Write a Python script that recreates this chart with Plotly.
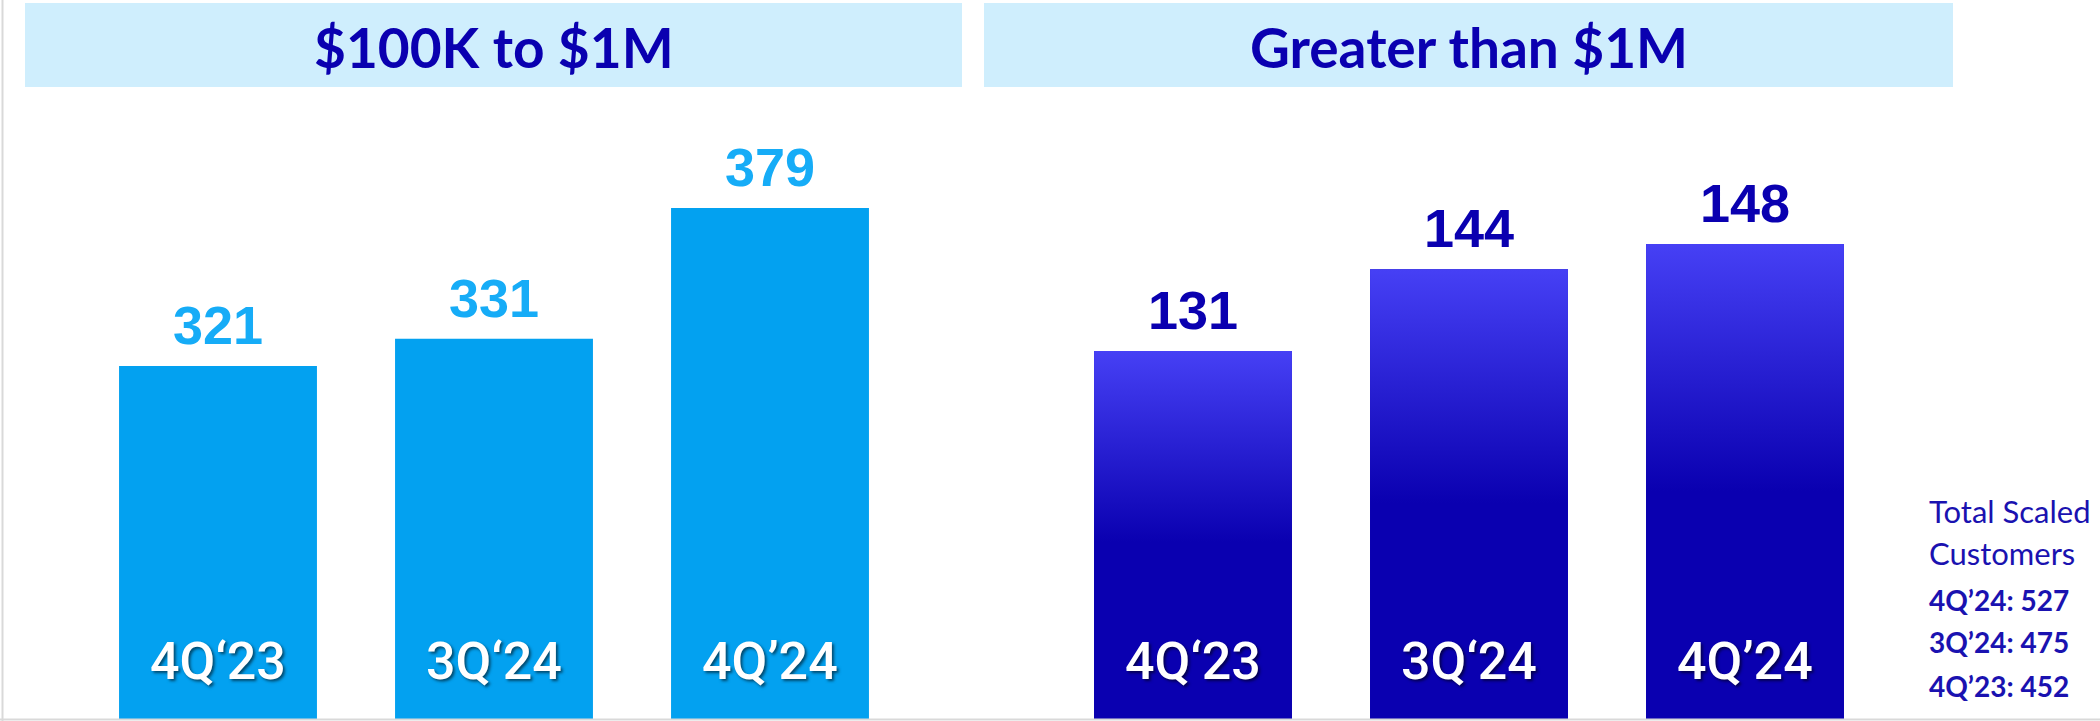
import plotly.graph_objects as go

# ---- data ----
periods = ["4Q‘23", "3Q‘24", "4Q’24"]
mid_values = [321, 331, 379]          # $100K to $1M
large_values = [131, 144, 148]        # Greater than $1M
panel_titles = ["$100K to $1M", "Greater than $1M"]
total_title = ["Total Scaled", "Customers"]
total_periods = ["4Q’24", "3Q’24", "4Q’23"]
total_values = [527, 475, 452]

W, H = 2100, 721
def xp(px): return px / W
def yp(py): return 1 - py / H

BAR_W = 0.717
LIGHT_BLUE = "#03A1F0"
LABEL_BLUE = "#16ACF7"
DARK = "#0A00B0"
GRAD_TOP = "#4640F5"

left_range = [191.4, 423.4]
right_range = [72.53, 172.94]

fig = go.Figure()
xs = list(range(len(periods)))

fig.add_trace(go.Bar(x=xs, y=[v - left_range[0] for v in mid_values], base=left_range[0],
                     width=BAR_W, marker=dict(color=LIGHT_BLUE, line=dict(width=0)),
                     xaxis="x", yaxis="y", hoverinfo="skip", showlegend=False))
fig.add_trace(go.Bar(x=xs, y=[v - right_range[0] for v in large_values], base=right_range[0],
                     width=BAR_W, marker=dict(color=DARK, line=dict(width=0)),
                     xaxis="x2", yaxis="y2", hoverinfo="skip", showlegend=False))

# gradient overlay for the right bars (derived from the same values)
for i, v in zip(xs, large_values):
    x0, x1 = i - BAR_W / 2, i + BAR_W / 2
    b = right_range[0]
    fig.add_trace(go.Scatter(
        x=[x0, x1, x1, x0, x0], y=[b, b, v, v, b], mode="lines", fill="toself",
        line=dict(width=0, color="rgba(0,0,0,0)"),
        fillgradient=dict(type="vertical",
                          colorscale=[[0, DARK], [0.48, DARK], [1, GRAD_TOP]]),
        xaxis="x2", yaxis="y2", hoverinfo="skip", showlegend=False))

annotations = []
# value labels
for i, v in zip(xs, mid_values):
    annotations.append(dict(x=i, y=v, xref="x", yref="y", text=str(v), showarrow=False,
                            yanchor="bottom", yshift=9,
                            font=dict(family="Liberation Sans", size=54, color=LABEL_BLUE, weight="bold")))
for i, v in zip(xs, large_values):
    annotations.append(dict(x=i, y=v, xref="x2", yref="y2", text=str(v), showarrow=False,
                            yanchor="bottom", yshift=9,
                            font=dict(family="Liberation Sans", size=54, color=DARK, weight="bold")))
# period labels inside bars
for ax, ay, rng in (("x", "y", left_range), ("x2", "y2", right_range)):
    for i, p in zip(xs, periods):
        annotations.append(dict(x=i, y=rng[0], xref=ax, yref=ay, text=p, showarrow=False,
                                yanchor="bottom", yshift=25,
                                font=dict(family="Roboto", size=52, weight=500,
                                          color="white",
                                          shadow="2px 2px 3px rgba(0,0,0,0.55)")))

# panel headers
shapes = []
header_boxes = [(25, 962), (984, 1953)]
for (a, b), t in zip(header_boxes, panel_titles):
    shapes.append(dict(type="rect", xref="paper", yref="paper", x0=xp(a), x1=xp(b),
                       y0=yp(87), y1=yp(3), fillcolor="#CFEEFD", line=dict(width=0), layer="below"))
    annotations.append(dict(x=xp((a + b) / 2), y=yp(47), xref="paper", yref="paper", text=t,
                            showarrow=False, xanchor="center", yanchor="middle",
                            font=dict(family="Lato", size=55, color=DARK, weight="bold")))

# axis lines
shapes.append(dict(type="line", xref="paper", yref="paper", x0=xp(2.5), x1=xp(2.5), y0=0, y1=1,
                   line=dict(color="#D9D9D9", width=2)))
shapes.append(dict(type="line", xref="paper", yref="paper", x0=0, x1=1, y0=yp(719.5), y1=yp(719.5),
                   line=dict(color="#D9D9D9", width=2)))

# total scaled customers block
tx = xp(1927)
for t, cy in zip(total_title, [511, 553]):
    annotations.append(dict(x=tx, y=yp(cy), xref="paper", yref="paper", text=t, showarrow=False,
                            xanchor="left", yanchor="middle",
                            font=dict(family="Lato", size=31, color="#1A12B0")))
for p, v, cy in zip(total_periods, total_values, [600, 642, 686]):
    annotations.append(dict(x=tx, y=yp(cy), xref="paper", yref="paper", text=f"{p}: {v}",
                            showarrow=False, xanchor="left", yanchor="middle",
                            font=dict(family="Lato", size=28, color="#1A12B0", weight="bold")))

axis_common = dict(showgrid=False, zeroline=False, showticklabels=False, ticks="", showline=False)
fig.update_layout(
    width=W, height=H, margin=dict(l=0, r=0, t=0, b=0),
    paper_bgcolor="white", plot_bgcolor="rgba(0,0,0,0)",
    xaxis=dict(domain=[xp(80), xp(908)], range=[-0.5, 2.5], **axis_common),
    yaxis=dict(domain=[yp(719), yp(87)], range=left_range, **axis_common),
    xaxis2=dict(domain=[xp(1055), xp(1883)], range=[-0.5, 2.5], anchor="y2", **axis_common),
    yaxis2=dict(domain=[yp(719), yp(87)], range=right_range, anchor="x2", **axis_common),
    shapes=shapes, annotations=annotations, showlegend=False,
)

fig.write_html("out.html")
